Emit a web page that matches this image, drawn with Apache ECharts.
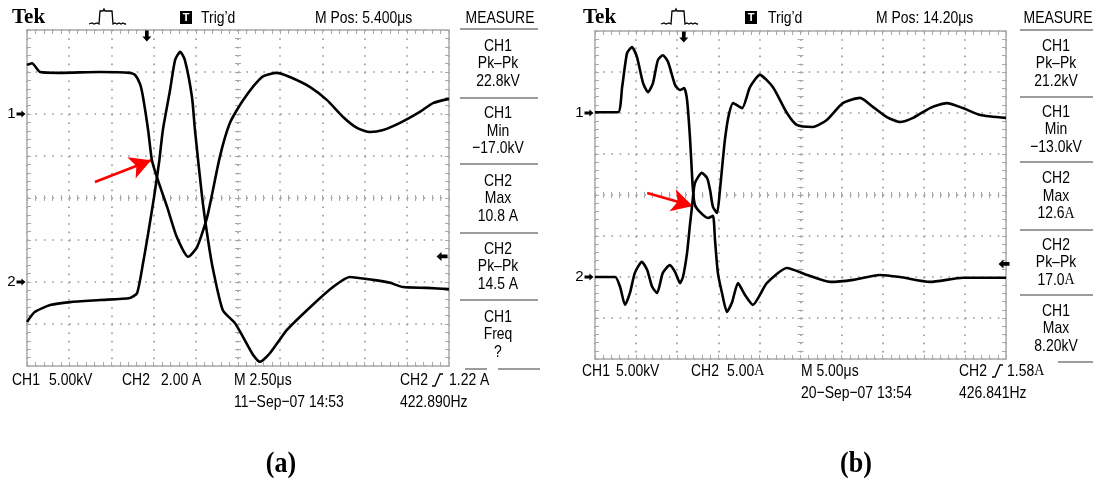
<!DOCTYPE html>
<html><head><meta charset="utf-8">
<script src="https://cdn.jsdelivr.net/npm/echarts@6/dist/echarts.min.js"></script>
<style>html,body{margin:0;padding:0;background:#fff}#c{width:1093px;height:482px}</style>
</head><body><div id="c"></div>
<script>
// ---------- DATA (divisions: x -5..5, y -4..4) ----------
const panelA_trace1 = [[-5.0,3.17],[-4.88,3.21],[-4.69,3.0],[-4.22,2.98],[-3.27,3.0],[-2.56,2.98],[-2.44,2.93],[-2.32,2.71],[-2.25,2.40],[-2.13,1.62],[-2.04,0.90],[-1.90,0.43],[-1.68,-0.21],[-1.45,-0.93],[-1.18,-1.40],[-0.97,-1.17],[-0.73,-0.45],[-0.43,0.98],[-0.19,1.79],[0.12,2.33],[0.57,2.88],[0.92,2.98],[1.23,2.88],[1.71,2.64],[2.11,2.33],[2.49,1.93],[2.82,1.67],[3.13,1.57],[3.44,1.62],[3.84,1.79],[4.31,2.05],[4.62,2.26],[5.0,2.36]];
const panelA_trace2 = [[-5.0,-2.95],[-4.81,-2.71],[-4.45,-2.55],[-3.98,-2.48],[-3.27,-2.43],[-2.56,-2.38],[-2.39,-2.26],[-2.25,-1.55],[-2.13,-0.85],[-1.99,0.02],[-1.87,0.85],[-1.78,1.62],[-1.61,2.57],[-1.49,3.29],[-1.37,3.48],[-1.26,3.29],[-1.09,2.40],[-1.02,1.62],[-0.85,0.02],[-0.71,-1.0],[-0.59,-1.71],[-0.36,-2.67],[-0.07,-2.98],[0.12,-3.31],[0.36,-3.74],[0.52,-3.90],[0.76,-3.69],[1.16,-3.14],[1.71,-2.60],[2.25,-2.12],[2.65,-1.88],[3.20,-1.95],[3.60,-2.02],[3.91,-2.12],[4.48,-2.14],[5.0,-2.17]];
const panelB_trace1 = [[-5.0,2.02],[-4.44,2.02],[-4.34,2.63],[-4.22,3.46],[-4.10,3.61],[-3.98,3.37],[-3.83,2.73],[-3.71,2.51],[-3.59,2.73],[-3.47,3.29],[-3.35,3.41],[-3.22,3.24],[-3.05,2.68],[-2.93,2.56],[-2.83,2.61],[-2.76,2.32],[-2.69,1.41],[-2.62,0.17],[-2.57,-0.24],[-2.45,-0.41],[-2.25,-0.56],[-2.13,-0.51],[-2.08,-1.10],[-2.01,-1.90],[-1.91,-2.39],[-1.79,-2.85],[-1.67,-2.63],[-1.52,-2.15],[-1.35,-2.44],[-1.16,-2.68],[-0.82,-2.15],[-0.33,-1.78],[0.16,-1.95],[0.72,-2.12],[1.28,-2.07],[1.93,-1.95],[2.42,-2.0],[3.15,-2.12],[3.95,-2.02],[5.0,-2.02]];
const panelB_trace2 = [[-5.0,-2.0],[-4.51,-2.0],[-4.39,-2.24],[-4.27,-2.68],[-4.15,-2.39],[-4.03,-1.90],[-3.86,-1.63],[-3.73,-1.83],[-3.61,-2.24],[-3.49,-2.39],[-3.35,-1.90],[-3.18,-1.71],[-3.05,-1.88],[-2.93,-2.15],[-2.86,-2.0],[-2.76,-1.41],[-2.69,-0.73],[-2.64,-0.29],[-2.57,0.29],[-2.40,0.54],[-2.27,0.41],[-2.20,0.12],[-2.13,-0.29],[-2.03,-0.44],[-1.96,0.12],[-1.89,0.85],[-1.84,1.34],[-1.76,1.88],[-1.64,2.24],[-1.42,2.12],[-1.23,2.63],[-0.99,2.93],[-0.67,2.63],[-0.33,2.0],[-0.09,1.71],[0.30,1.66],[0.64,1.83],[1.03,2.24],[1.45,2.37],[1.76,2.15],[2.10,1.90],[2.42,1.78],[2.74,1.88],[3.15,2.12],[3.56,2.24],[3.95,2.12],[4.37,1.95],[5.0,1.88]];

const groundLevels = [2, -2];           // CH1, CH2 reference markers
const trigLevels = [-1.39, -1.68];       // trigger level arrows (panel a, b)
const trigPositions = [-2.16, -2.84];    // trigger position arrows
const redArrows = [[[-3.39,0.38],[-2.06,0.90]], [[-3.73,0.05],[-2.62,-0.27]]];

const headerA = ['Tek', 'Trig\u2019d', 'M Pos: 5.400\u03bcs', 'MEASURE'];
const headerB = ['Tek', 'Trig\u2019d', 'M Pos: 14.20\u03bcs', 'MEASURE'];
const measureA = [['CH1','Pk\u2013Pk','22.8kV'],['CH1','Min','\u221217.0kV'],['CH2','Max','10.8 A'],['CH2','Pk\u2013Pk','14.5 A'],['CH1','Freq','?']];
const measureB = [['CH1','Pk\u2013Pk','21.2kV'],['CH1','Min','\u221213.0kV'],['CH2','Max','12.6{s|A}'],['CH2','Pk\u2013Pk','17.0{s|A}'],['CH1','Max','8.20kV']];
const footerA = ['CH1','5.00kV','CH2','2.00 A','M 2.50\u03bcs','CH2','1.22 A','11\u2212Sep\u221207 14:53','422.890Hz'];
const footerB = ['CH1','5.00kV','CH2','5.00{s|A}','M 5.00\u03bcs','CH2','1.58{s|A}','20\u2212Sep\u221207 13:54','426.841Hz'];
const captions = ['(a)', '(b)'];

// ---------- LAYOUT ----------
const grids = [
  {left: 27, top: 30, width: 422, height: 336},
  {left: 595, top: 31, width: 411, height: 328}
];
const SANS = '"Liberation Sans", Arial, sans-serif';
const FS = 17, SX = 0.82;
const rich = {s: {fontFamily: '"Liberation Serif", serif', fontSize: FS, fill: '#000', color: '#000'}};

function txt(x, y, text, o) {
  o = o || {};
  return {
    type: 'text', x: x, y: y, z: 20,
    scaleX: o.sx == null ? SX : o.sx, scaleY: o.sy == null ? 1 : o.sy,
    style: {
      text: text, fill: o.fill || '#000',
      font: (o.weight || 'normal') + ' ' + (o.size || FS) + 'px ' + (o.family || SANS),
      align: o.align || 'left', verticalAlign: 'middle',
      textAlign: o.align || 'left', textVerticalAlign: 'middle',
      rich: rich
    }
  };
}
function poly(x, y, pts, w) {
  return {type: 'polyline', x: x, y: y, z: 20, shape: {points: pts}, style: {stroke: '#000', lineWidth: w || 1.3, fill: null}};
}
function hline(x1, x2, y) {
  return {type: 'line', z: 20, shape: {x1: x1, y1: y, x2: x2, y2: y}, style: {stroke: '#9c9c9c', lineWidth: 2}};
}
const pulsePts = [[0,0],[3,-1],[5,0],[8,-1],[10,0],[11,-13],[14,-13],[15,-15],[16,-13],[19,-13],[23,-13],[24,0],[26,-1],[28,0],[30,-1],[32,0],[34,-1],[36,0],[37,0]];
const slopePts = [[0,0],[3,0],[8,-12],[11,-12]];

function panelGraphics(p) {
  const L = p === 0 ? {
    tek: 12, pulse: 89, tbox: 180, trig: 201, mpos: 315, meas: 500, sepX: [460, 538],
    seps: [29, 98, 164, 233, 300], bottomSep: [[465, 487], [498, 540]], bottomY: 369,
    centers: [63.5, 131, 198.5, 266.5, 334.5],
    fy1: 380, fy2: 402, fx: [12, 49, 122, 161, 234, 400, 449, 234, 400], slopeX: 432
  } : {
    tek: 583, pulse: 661, tbox: 745, trig: 768, mpos: 876, meas: 1058, sepX: [1020, 1093],
    seps: [30, 97, 162, 230, 295], bottomSep: [[1058, 1093]], bottomY: 362,
    centers: [63.5, 129.5, 196, 262.5, 328.5],
    fy1: 371, fy2: 393, fx: [582, 616, 691, 727, 801, 959, 1007, 801, 959], slopeX: 992
  };
  const hdr = p === 0 ? headerA : headerB;
  const meas = p === 0 ? measureA : measureB;
  const ft = p === 0 ? footerA : footerB;
  const els = [];
  els.push(txt(L.tek, 18, hdr[0], {weight: 'bold', size: 21, family: '"Liberation Serif", serif', sx: 1}));
  els.push(poly(L.pulse, 24, pulsePts, 1.3));
  els.push({type: 'rect', z: 20, shape: {x: L.tbox, y: 11, width: 12, height: 13}, style: {fill: '#000'}});
  els.push(txt(L.tbox + 6, 17.5, 'T', {fill: '#fff', weight: 'bold', size: 11, align: 'center', sx: 1}));
  els.push(txt(L.trig, 18, hdr[1]));
  els.push(txt(L.mpos, 18, hdr[2]));
  els.push(txt(L.meas, 18, hdr[3], {align: 'center'}));
  L.seps.forEach(y => els.push(hline(L.sepX[0], L.sepX[1], y)));
  L.bottomSep.forEach(s => els.push(hline(s[0], s[1], L.bottomY)));
  meas.forEach((m, i) => m.forEach((t, j) => els.push(txt(L.meas - 2, L.centers[i] + (j - 1) * 17.5, t, {align: 'center'}))));
  // footer
  for (let i = 0; i < 7; i++) els.push(txt(L.fx[i], L.fy1, ft[i]));
  els.push(poly(L.slopeX, L.fy1 + 6, slopePts, 1.3));
  els.push(txt(L.fx[7], L.fy2, ft[7]));
  els.push(txt(L.fx[8], L.fy2, ft[8]));
  return els;
}

// ---------- AXES (graticule) ----------
const GRID_GRAY = '#a9a9a9';
const DOT_GRAY = '#969696';
const xAxes = [], yAxes = [];
grids.forEach((g, gi) => {
  const ddx = g.width / 50, ddy = g.height / 40;  // 0.2-division spacing in px
  const base = {gridIndex: gi, type: 'value', axisLabel: {show: false}, splitLine: {show: false},
    axisTick: {show: false}, minorTick: {show: false}, axisLine: {show: false}, silent: true, axisPointer: {show: false}};
  const border = () => ({show: true, onZero: false, lineStyle: {color: GRID_GRAY, width: 1.5}});
  const tick = (inside, len) => ({show: true, inside: inside, length: len, lineStyle: {color: GRID_GRAY, width: 1}});
  const mtick = (len) => ({show: true, splitNumber: 5, length: len, lineStyle: {color: GRID_GRAY, width: 1}});
  const X = Object.assign({}, base, {min: -5, max: 5, interval: 1});
  const Y = Object.assign({}, base, {min: -4, max: 4, interval: 1});
  xAxes.push(Object.assign({}, X, {position: 'bottom', axisLine: border(), axisTick: tick(true, 4), minorTick: mtick(4),
    splitLine: {show: true, lineStyle: {color: DOT_GRAY, width: 1.6, type: [1.6, ddy - 1.6]}}}));
  xAxes.push(Object.assign({}, X, {position: 'top', axisLine: border(), axisTick: tick(true, 4), minorTick: mtick(4)}));
  xAxes.push(Object.assign({}, X, {position: 'bottom', axisLine: {show: false, onZero: true, onZeroAxisIndex: gi * 4}, axisTick: tick(true, 3), minorTick: mtick(3)}));
  xAxes.push(Object.assign({}, X, {position: 'bottom', axisLine: {show: false, onZero: true, onZeroAxisIndex: gi * 4 + 1}, axisTick: tick(false, 3), minorTick: mtick(3)}));
  yAxes.push(Object.assign({}, Y, {position: 'left', axisLine: border(), axisTick: tick(true, 4), minorTick: mtick(4),
    splitLine: {show: true, lineStyle: {color: DOT_GRAY, width: 1.6, type: [1.6, ddx - 1.6]}}}));
  yAxes.push(Object.assign({}, Y, {position: 'right', axisLine: border(), axisTick: tick(true, 4), minorTick: mtick(4)}));
  yAxes.push(Object.assign({}, Y, {position: 'left', axisLine: {show: false, onZero: true, onZeroAxisIndex: gi * 4}, axisTick: tick(true, 3), minorTick: mtick(3)}));
  yAxes.push(Object.assign({}, Y, {position: 'left', axisLine: {show: false, onZero: true, onZeroAxisIndex: gi * 4 + 1}, axisTick: tick(false, 3), minorTick: mtick(3)}));
});

// ---------- SERIES ----------
const rightArrow = 'path://M0,3 L6,3 L6,0 L11,5 L6,10 L6,7 L0,7 Z';
const leftArrow = 'path://M11,3 L5,3 L5,0 L0,5 L5,10 L5,7 L11,7 Z';
const downArrow = 'path://M3,0 L7,0 L7,6 L10,6 L5,11 L0,6 L3,6 Z';
const traces = [[panelA_trace1, panelA_trace2], [panelB_trace1, panelB_trace2]];
const trigLevelOffsets = [-7, -2];
const series = [];
traces.forEach((pair, gi) => {
  pair.forEach((data, k) => {
    const s = {
      type: 'line', xAxisIndex: gi * 4, yAxisIndex: gi * 4, data: data,
      showSymbol: false, symbol: 'none', smooth: 0.2, silent: true, z: 5,
      lineStyle: {color: '#000', width: 2.6}, animation: false
    };
    if (k === 0) {
      s.markPoint = {
        silent: true, animation: false, label: {show: false}, itemStyle: {color: '#000'},
        data: [
          {coord: [-5, groundLevels[0]], symbol: rightArrow, symbolSize: [9, 7], symbolOffset: [-6, 0],
           label: {show: true, formatter: '1', position: 'left', distance: 1, color: '#000', fontSize: 15, fontFamily: SANS}},
          {coord: [-5, groundLevels[1]], symbol: rightArrow, symbolSize: [9, 7], symbolOffset: [-6, 0],
           label: {show: true, formatter: '2', position: 'left', distance: 1, color: '#000', fontSize: 15, fontFamily: SANS}},
          {coord: [5, trigLevels[gi]], symbol: leftArrow, symbolSize: [11, 9], symbolOffset: [trigLevelOffsets[gi], 0]},
          {coord: [trigPositions[gi], 4], symbol: downArrow, symbolSize: [9, 11], symbolOffset: [0, 6]}
        ]
      };
      s.markLine = {
        silent: true, animation: false, symbol: ['none', 'arrow'], symbolSize: [17, 21],
        label: {show: false}, lineStyle: {color: '#ff0000', width: 2.6, type: 'solid'},
        itemStyle: {color: '#ff0000'},
        data: [[{coord: redArrows[gi][0]}, {coord: redArrows[gi][1]}]]
      };
    }
    series.push(s);
  });
});

// ---------- GRAPHICS (text) ----------
let elements = [].concat(panelGraphics(0), panelGraphics(1));
elements.push(txt(281, 465, captions[0], {weight: 'bold', size: 26, family: '"Liberation Serif", "Times New Roman", serif', align: 'center', sx: 1, sy: 1.1}));
elements.push(txt(856, 465, captions[1], {weight: 'bold', size: 26, family: '"Liberation Serif", "Times New Roman", serif', align: 'center', sx: 1, sy: 1.1}));

const chart = echarts.init(document.getElementById('c'), null, {renderer: 'canvas'});
chart.setOption({
  backgroundColor: '#fff',
  animation: false,
  grid: grids.map(g => Object.assign({containLabel: false}, g)),
  xAxis: xAxes,
  yAxis: yAxes,
  series: series,
  graphic: {elements: elements}
});
</script>
</body></html>
